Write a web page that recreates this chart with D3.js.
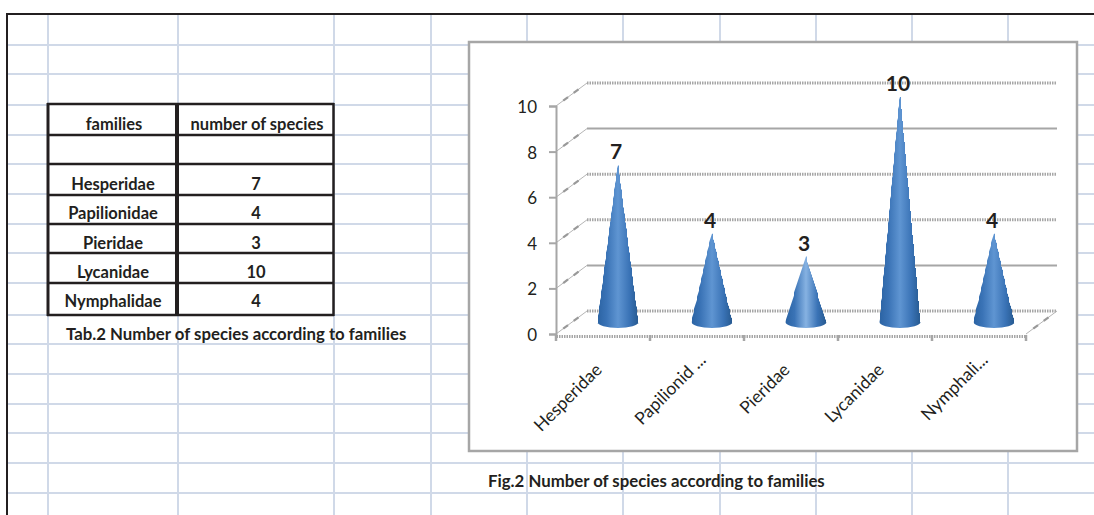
<!DOCTYPE html>
<html>
<head>
<meta charset="utf-8">
<script src="https://cdn.jsdelivr.net/npm/d3@7"></script>
<style>
html, body { margin: 0; padding: 0; background: #fff; }
svg { display: block; font-family: Lato, sans-serif; }
</style>
</head>
<body>
<svg id="page" width="1094" height="515"></svg>
<script>
// Chart data
var families = ["Hesperidae", "Papilionidae", "Pieridae", "Lycanidae", "Nymphalidae"];
var species = [7, 4, 3, 10, 4];
var xLabels = ["Hesperidae", "Papilionid ...", "Pieridae", "Lycanidae", "Nymphali..."];
var yTicks = [0, 2, 4, 6, 8, 10];
// gridlines that came out solid in the scan, the rest are dotted
var solidTicks = [2, 8];
var headers = ["families", "number of species"];
var tableCaption = "Tab.2 Number of species according to families";
var chartCaption = "Fig.2 Number of species according to families";

// Sheet cell edges behind everything
var sheetCols = [48, 178, 334, 431, 527, 623, 720, 816, 912, 1008];
var sheetRows = [45, 74, 105, 135, 164, 194, 224, 253, 283, 315, 344, 374, 404, 433, 463, 493];
var tableRows = [104, 135, 164, 195, 224, 253, 283, 315];
var textRows = [189.5, 219, 249, 278, 307];

var WALL_X = 31;
var WALL_Y = -23;
var CONE_X = 15;
var CONE_Y = -9;
var CONE_R = 20.5;

var svg = d3.select("#page");
var ink = "#231f20";
var grey = "#a6a6a6";

var y = d3.scaleLinear().domain([0, 10]).range([334, 106]);
var x = d3.scaleBand().domain(families).range([556, 1026]);

// Spreadsheet background
svg.selectAll(".sheetCol")
	.data(sheetCols)
	.enter().append("line")
	.attr("x1", function(d) { return d; })
	.attr("x2", function(d) { return d; })
	.attr("y1", 14)
	.attr("y2", 515)
	.attr("stroke", "#d0d9e8")
	.attr("stroke-width", 2);
svg.selectAll(".sheetRow")
	.data(sheetRows)
	.enter().append("line")
	.attr("x1", 8)
	.attr("x2", 1094)
	.attr("y1", function(d) { return d; })
	.attr("y2", function(d) { return d; })
	.attr("stroke", "#d0d9e8")
	.attr("stroke-width", 2);
svg.append("path")
	.attr("d", "M7 515V14H1094")
	.attr("fill", "none")
	.attr("stroke", ink)
	.attr("stroke-width", 2);

// Table
var table = svg.append("g");
table.append("rect")
	.attr("x", 48).attr("y", 104)
	.attr("width", 286).attr("height", 211)
	.attr("fill", "#fff");
table.selectAll("line.rowLine")
	.data(tableRows)
	.enter().append("line")
	.attr("x1", 47).attr("x2", 334)
	.attr("y1", function(d) { return d; })
	.attr("y2", function(d) { return d; })
	.attr("stroke", ink)
	.attr("stroke-width", 2.5);
table.selectAll("line.colLine")
	.data([[48, 3], [177, 4], [333.5, 2.5]])
	.enter().append("line")
	.attr("x1", function(d) { return d[0]; })
	.attr("x2", function(d) { return d[0]; })
	.attr("y1", 103).attr("y2", 316)
	.attr("stroke", ink)
	.attr("stroke-width", function(d) { return d[1]; });

function cell(cx, cy, txt)
{
	table.append("text")
		.attr("x", cx).attr("y", cy)
		.attr("text-anchor", "middle")
		.attr("font-size", 16.5)
		.attr("font-weight", 700)
		.attr("fill", ink)
		.text(txt);
}
cell(114, 130, headers[0]);
cell(257, 130, headers[1]);
families.forEach(function(f, i) {
	cell(113, textRows[i], f);
	cell(256, textRows[i], species[i]);
});

svg.append("text")
	.attr("x", 66).attr("y", 340)
	.attr("font-size", 16.8)
	.attr("font-weight", 700)
	.attr("fill", ink)
	.text(tableCaption);
svg.append("text")
	.attr("x", 488).attr("y", 487)
	.attr("font-size", 16.8)
	.attr("font-weight", 700)
	.attr("fill", ink)
	.text(chartCaption);

// Chart frame
svg.append("rect")
	.attr("x", 469).attr("y", 42)
	.attr("width", 608).attr("height", 409)
	.attr("fill", "#fff")
	.attr("stroke", grey)
	.attr("stroke-width", 2.5);

// Back wall gridlines
svg.selectAll(".wall")
	.data(yTicks)
	.enter().append("line")
	.attr("class", "wall")
	.attr("x1", 556 + WALL_X)
	.attr("x2", 1026 + WALL_X)
	.attr("y1", function(d) { return y(d) + WALL_Y; })
	.attr("y2", function(d) { return y(d) + WALL_Y; })
	.attr("stroke", grey)
	.attr("stroke-width", function(d) { return solidTicks.indexOf(d) >= 0 ? 2 : 3; })
	.attr("stroke-dasharray", function(d) { return solidTicks.indexOf(d) >= 0 ? null : "1.5 1"; });

// Side wall and floor diagonals, thin line with the thicker blobs on top
function diagonal(x0, yv)
{
	svg.append("line")
		.attr("x1", x0).attr("x2", x0 + WALL_X)
		.attr("y1", y(yv)).attr("y2", y(yv) + WALL_Y)
		.attr("stroke", "#b5b5b5")
		.attr("stroke-width", 1);
	svg.append("line")
		.attr("x1", x0).attr("x2", x0 + WALL_X)
		.attr("y1", y(yv)).attr("y2", y(yv) + WALL_Y)
		.attr("stroke", "#999")
		.attr("stroke-width", 2.2)
		.attr("stroke-dasharray", "0 9 6 7 6 20");
}
yTicks.forEach(function(t) { diagonal(556, t); });
diagonal(1026, 0);

// Axes
var yAxis = svg.append("g")
	.attr("transform", "translate(556,0)")
	.call(d3.axisLeft(y).tickValues(yTicks).tickSize(7).tickPadding(12).tickFormat(d3.format("d")));
yAxis.selectAll("path,line").attr("stroke", grey).attr("stroke-width", 2);
yAxis.selectAll("text")
	.attr("font-family", "Lato, sans-serif")
	.attr("font-size", 17)
	.attr("fill", ink)
	.attr("y", 1);

var xAxis = svg.append("g")
	.attr("transform", "translate(0," + (y(0) + 2) + ")")
	.call(d3.axisBottom(x).tickSize(0).tickFormat(function(d, i) { return xLabels[i]; }));
xAxis.select("path").attr("stroke", grey).attr("stroke-width", 3).attr("stroke-dasharray", "1.5 1");
xAxis.selectAll("line").remove();
xAxis.selectAll("text")
	.attr("font-family", "Lato, sans-serif")
	.attr("font-size", 17.5)
	.attr("fill", ink)
	.attr("text-anchor", "end")
	.attr("dx", function(d, i) { return xLabels[i].indexOf("...") >= 0 ? 14 : 0; })
	.attr("transform", "translate(-11,24) rotate(-45)");

// Ticks on the floor edge, on the band boundaries
var floorTicks = families.map(function(f) { return x(f); }).concat([x.range()[1]]);
svg.selectAll(".floorTick")
	.data(floorTicks)
	.enter().append("line")
	.attr("x1", function(d) { return d; })
	.attr("x2", function(d) { return d; })
	.attr("y1", y(0) + 1)
	.attr("y2", y(0) + 7)
	.attr("stroke", grey)
	.attr("stroke-width", 2.5);

// Cones
var defs = svg.append("defs");
function coneGradient(id, mid)
{
	var grad = defs.append("linearGradient").attr("id", id);
	[[0, "#2b63a3"], [0.22, "#3a73b6"], [0.5, mid], [0.78, "#3a73b6"], [1, "#26598f"]].forEach(function(s) {
		grad.append("stop").attr("offset", s[0]).attr("stop-color", s[1]);
	});
}
coneGradient("coneFill", "#5f95d2");
coneGradient("coneFillBright", "#86b2e2");

// The scan shows stepped edges, so the sides go down in small stairs
function conePath(cx, top, base)
{
	var rows = d3.range(top, base, 3);
	var w = d3.scaleLinear().domain([top, base]).range([0.5, CONE_R]);
	var right = "", left = "";
	rows.forEach(function(r) {
		var hw = Math.round(w(r));
		right += "L" + (cx + hw) + " " + r + "V" + (r + 3);
		left = "V" + r + "L" + (cx - hw) + " " + (r + 3) + left;
	});
	return "M" + cx + " " + top + right +
		"L" + (cx + CONE_R) + " " + base +
		"A" + CONE_R + " 6 0 0 1 " + (cx - CONE_R) + " " + base +
		"L" + (cx - CONE_R) + " " + base + left + "Z";
}

svg.selectAll(".cone")
	.data(families)
	.enter().append("path")
	.attr("class", "cone")
	.attr("fill", function(f, i) { return i == 2 ? "url(#coneFillBright)" : "url(#coneFill)"; })
	.attr("d", function(f, i) {
		var cx = x(f) + x.bandwidth() / 2 + CONE_X;
		return conePath(cx, y(species[i]) + CONE_Y, y(0) + CONE_Y - 3);
	});

// Data labels
svg.selectAll(".valueLabel")
	.data(families)
	.enter().append("text")
	.attr("class", "valueLabel")
	.attr("x", function(f) { return x(f) + x.bandwidth() / 2 + CONE_X - 2; })
	.attr("y", function(f, i) { return y(species[i]) + CONE_Y - 6; })
	.attr("text-anchor", "middle")
	.attr("font-size", 21)
	.attr("font-weight", 700)
	.attr("fill", ink)
	.text(function(f, i) { return species[i]; });
</script>
</body>
</html>
